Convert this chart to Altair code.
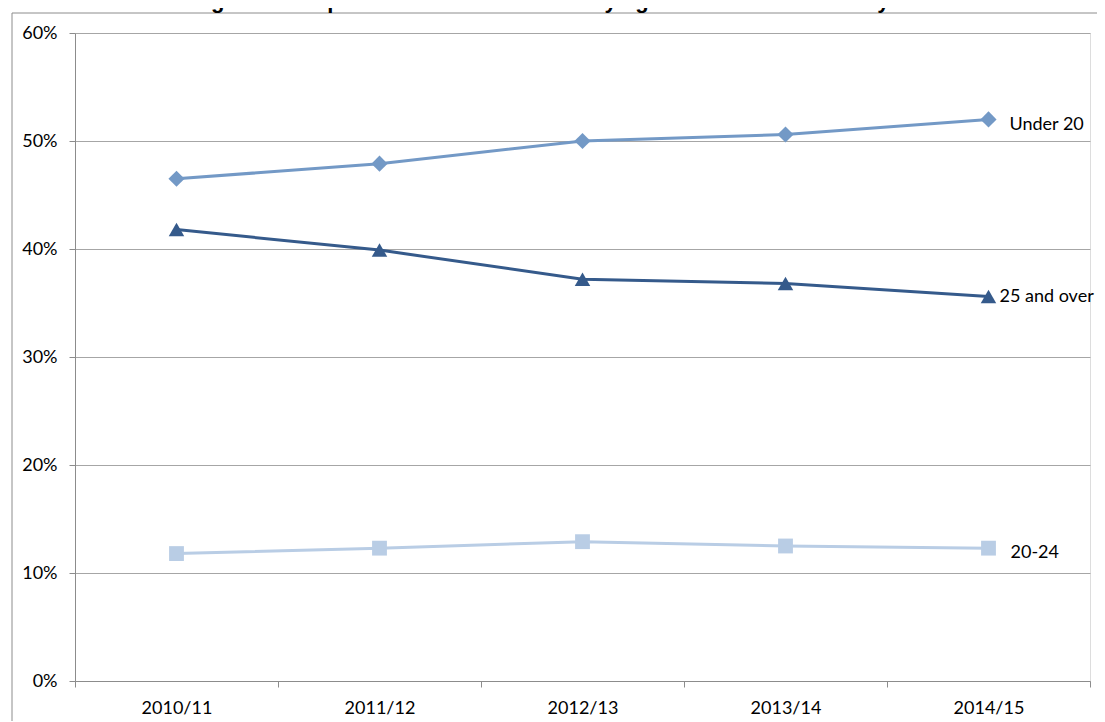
import altair as alt
import pandas as pd

years = ["2010/11", "2011/12", "2012/13", "2013/14", "2014/15"]
under20 = [0.465, 0.479, 0.500, 0.506, 0.520]
over25 = [0.418, 0.399, 0.372, 0.368, 0.356]
age2024 = [0.118, 0.123, 0.129, 0.125, 0.123]
series_names = ["Under 20", "25 and over", "20-24"]
series_colors = ["#7399C6", "#355A8B", "#B9CDE5"]
series_shapes = ["diamond", "triangle-up", "square"]
title_text = "Figure 6: Proportion of all enrolments by age band and academic year"
y_ticks = [0, 0.1, 0.2, 0.3, 0.4, 0.5, 0.6]

rows = []
for name, vals in zip(series_names, [under20, over25, age2024]):
    for yr, v in zip(years, vals):
        rows.append({"year": yr, "value": v, "series": name})
df = pd.DataFrame(rows)

W, H = 1015, 648

x_enc = alt.X(
    "year:N", sort=years, bandPosition=0.5,
    scale=alt.Scale(type="band", paddingInner=0, paddingOuter=0),
    axis=alt.Axis(title=None, tickBand="extent", labelAngle=0, tickSize=6,
                  labelPadding=12, labelFont="Lato", labelFontSize=18,
                  labelColor="#000000", domainColor="#8C8C8C", tickColor="#8C8C8C",
                  grid=False),
)
y_enc = alt.Y(
    "value:Q", scale=alt.Scale(domain=[0, 0.6], nice=False),
    axis=alt.Axis(title=None, format=".0%", values=y_ticks, grid=True,
                  gridColor="#A6A6A6", gridWidth=1, tickSize=6, labelPadding=12,
                  labelFont="Lato", labelFontSize=18, labelColor="#000000",
                  domainColor="#8C8C8C", tickColor="#8C8C8C"),
)
color_enc = alt.Color("series:N", scale=alt.Scale(domain=series_names, range=series_colors), legend=None)

base = alt.Chart(df)
lines = base.mark_line(strokeWidth=3).encode(x=x_enc, y=y_enc, color=color_enc, detail="series:N")
points = base.mark_point(filled=True, opacity=1).encode(
    x=x_enc, y=y_enc, color=color_enc,
    shape=alt.Shape("series:N", scale=alt.Scale(domain=series_names, range=series_shapes), legend=None),
    size=alt.Size("series:N", scale=alt.Scale(domain=series_names, range=[260, 220, 200]), legend=None),
)

label_offsets = {"Under 20": (21, 6), "25 and over": (11, 0), "20-24": (22, 5)}
label_layers = []
for name in series_names:
    dx, dy = label_offsets[name]
    label_layers.append(
        base.transform_filter(
            (alt.datum.series == name) & (alt.datum.year == years[-1])
        ).mark_text(align="left", baseline="middle", dx=dx, dy=dy, font="Lato",
                    fontSize=18, color="#000000").encode(x=x_enc, y=y_enc, text="series:N")
    )

one = pd.DataFrame({"t": [title_text]})
title = alt.Chart(one).mark_text(
    font="Liberation Sans", fontWeight="bold", fontSize=22, align="center",
    baseline="alphabetic", color="#000000",
).encode(text="t:N", x=alt.value(482), y=alt.value(-25))

border_v = alt.Chart(one).mark_rule(color="#8C8C8C", strokeWidth=1).encode(
    x=alt.value(-63), y=alt.value(-20), y2=alt.value(H + 40))
border_h = alt.Chart(one).mark_rule(color="#8C8C8C", strokeWidth=1).encode(
    x=alt.value(-63), x2=alt.value(W + 30), y=alt.value(-20))

chart = alt.layer(border_v, border_h, title, lines, points, *label_layers).properties(
    width=W, height=H,
    autosize=alt.AutoSizeParams(type="none"),
    padding={"left": 67, "top": 25, "right": 7, "bottom": 41},
).configure_view(stroke=None).configure(background="white")

chart.save("out.html", embed_options={"renderer": "svg", "actions": False})
